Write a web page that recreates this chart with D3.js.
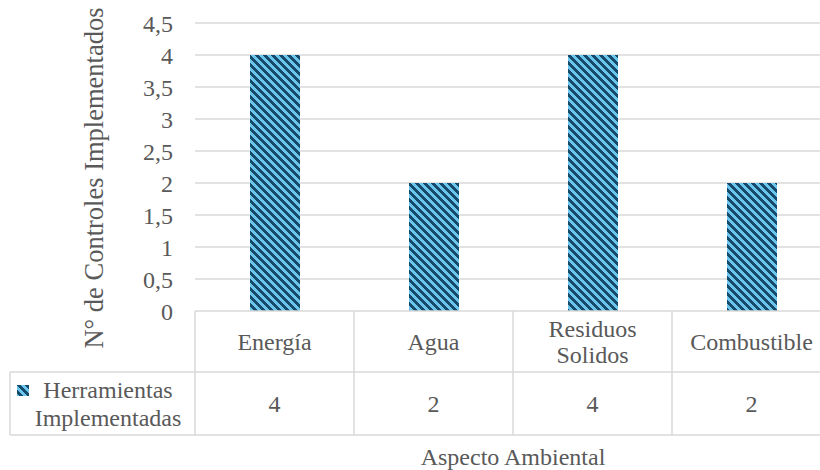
<!DOCTYPE html>
<html><head><meta charset="utf-8">
<script src="https://cdn.jsdelivr.net/npm/d3@7"></script>
<style>body{margin:0;background:#fff}svg{display:block}</style>
</head><body>
<svg id="c" width="820" height="470"></svg>
<script>
const categories = [["Energía"], ["Agua"], ["Residuos", "Solidos"], ["Combustible"]];
const values = [4, 2, 4, 2];
const seriesName = ["Herramientas", "Implementadas"];
const yTicks = [0, 0.5, 1, 1.5, 2, 2.5, 3, 3.5, 4, 4.5];
const yTitle = "N° de Controles Implementados";
const xTitle = "Aspecto Ambiental";

const svg = d3.select("#c");
const font = "'Liberation Serif', 'Times New Roman', serif";
const txt = "#595959", grid = "#d9d9d9";
const L = 195, R = 831, T = 23, B = 311;
const row1 = 372, row2 = 435, tableLeft = 10;
const fs = 24;

const defs = svg.append("defs");
const pat = defs.append("pattern").attr("id", "stripe").attr("patternUnits", "userSpaceOnUse")
  .attr("width", 8).attr("height", 8).attr("x", 0).attr("y", 0);
pat.append("rect").attr("width", 8).attr("height", 8).attr("fill", "#6cc5ec");
for (let y = 0; y < 8; y++) for (let x = 0; x < 8; x++) {
  if (((x - y) % 8 + 8) % 8 < 4) pat.append("rect").attr("x", x).attr("y", y).attr("width", 1).attr("height", 1).attr("fill", "#154b68");
}

const x = d3.scaleBand().domain(d3.range(categories.length)).range([L, R]).paddingInner(0).paddingOuter(0);
const y = d3.scaleLinear().domain([0, 4.5]).range([B, T]);

// gridlines
svg.append("g").selectAll("line").data(yTicks.filter(d => d > 0)).join("line")
  .attr("x1", L).attr("x2", R).attr("y1", d => y(d)).attr("y2", d => y(d))
  .attr("stroke", grid).attr("stroke-width", 1.3);

// y tick labels
const yAxis = d3.axisLeft(y).tickValues(yTicks).tickSize(0).tickPadding(0)
  .tickFormat(d => String(d).replace(".", ","));
const ya = svg.append("g").attr("transform", `translate(173,0)`).call(yAxis);
ya.select(".domain").remove();
ya.selectAll("text").attr("font-family", font).attr("font-size", fs).attr("fill", txt).attr("dy", "0.34em");

// bars
const bw = 50;
svg.append("g").selectAll("rect").data(values).join("rect")
  .attr("x", (d, i) => x(i) + x.bandwidth() / 2 - bw / 2)
  .attr("width", bw)
  .attr("y", d => y(d)).attr("height", d => y(0) - y(d))
  .attr("fill", "url(#stripe)").attr("shape-rendering", "crispEdges");

// table
const tg = svg.append("g").attr("stroke", grid).attr("stroke-width", 1.5).attr("fill", "none");
tg.append("line").attr("x1", L).attr("x2", R).attr("y1", B).attr("y2", B);
tg.append("line").attr("x1", tableLeft).attr("x2", R).attr("y1", row1).attr("y2", row1);
tg.append("line").attr("x1", tableLeft).attr("x2", R).attr("y1", row2).attr("y2", row2);
tg.append("line").attr("x1", tableLeft).attr("x2", tableLeft).attr("y1", row1).attr("y2", row2);
tg.selectAll(".v").data(d3.range(categories.length + 1)).join("line")
  .attr("x1", i => i < categories.length ? x(i) : R).attr("x2", i => i < categories.length ? x(i) : R)
  .attr("y1", B).attr("y2", row2);

// category labels
const lh = 26;
const cg = svg.append("g").attr("font-family", font).attr("font-size", fs).attr("fill", txt).attr("text-anchor", "middle");
categories.forEach((lines, i) => {
  const cx = x(i) + x.bandwidth() / 2, cy = (B + row1) / 2;
  lines.forEach((s, k) => {
    cg.append("text").attr("x", cx).attr("y", cy + (k - (lines.length - 1) / 2) * lh).attr("dy", "0.34em").text(s);
  });
});
values.forEach((v, i) => {
  cg.append("text").attr("x", x(i) + x.bandwidth() / 2).attr("y", (row1 + row2) / 2).attr("dy", "0.34em").text(v);
});

// legend cell
svg.append("rect").attr("x", 17).attr("y", 385).attr("width", 12).attr("height", 11).attr("fill", "url(#stripe)");
seriesName.forEach((s, k) => {
  cg.append("text").attr("x", 108).attr("y", (row1 + row2) / 2 + (k - 0.5) * 28).attr("dy", "0.34em").text(s);
});

// titles
svg.append("text").attr("transform", `translate(103,178) rotate(-90)`).attr("text-anchor", "middle")
  .attr("font-family", font).attr("font-size", 26.5).attr("fill", txt).text(yTitle);
svg.append("text").attr("x", 513).attr("y", 465).attr("text-anchor", "middle")
  .attr("font-family", font).attr("font-size", fs).attr("fill", txt).text(xTitle);
</script>
</body></html>
